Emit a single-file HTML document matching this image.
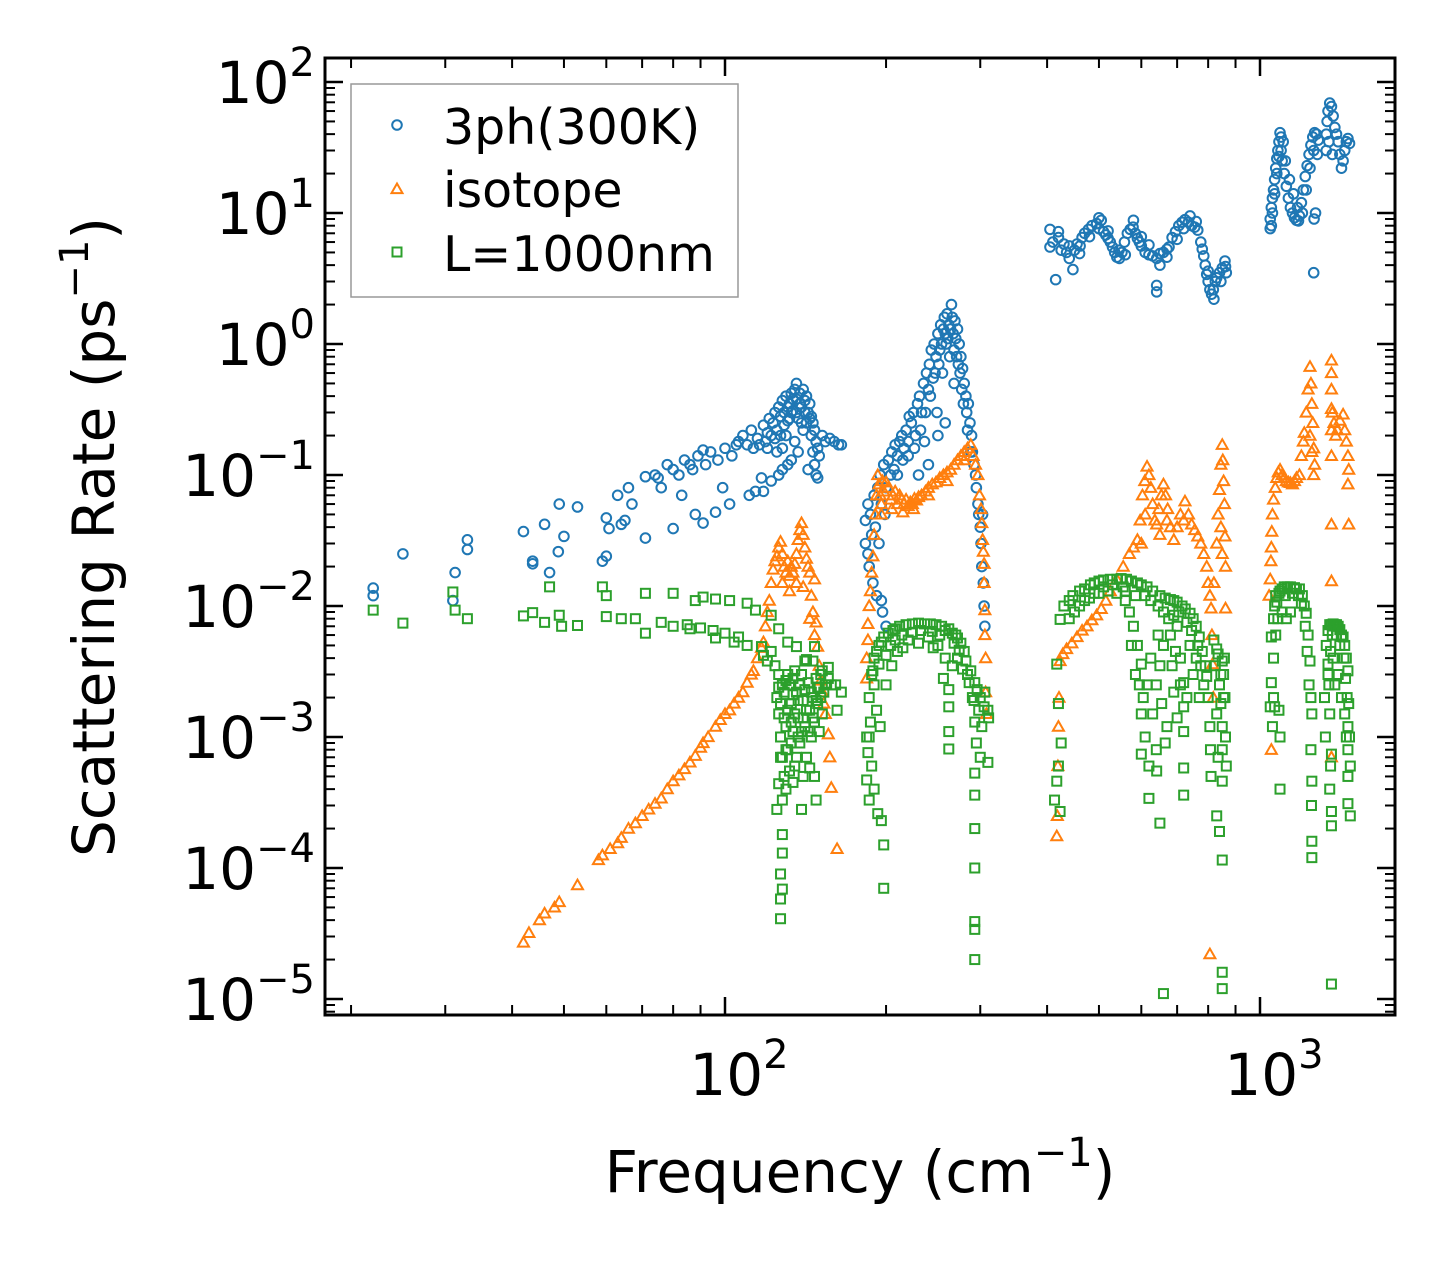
<!DOCTYPE html>
<html>
<head>
<meta charset="utf-8">
<style>
html,body{margin:0;padding:0;background:#fff;}
svg{display:block;font-family:"DejaVu Sans","Liberation Sans",sans-serif;}
</style>
</head>
<body>
<svg id="chart" width="1455" height="1265" viewBox="0 0 1455 1265" xmlns="http://www.w3.org/2000/svg">
  <rect x="0" y="0" width="1455" height="1265" fill="#fff"/>
  <defs><clipPath id="plotclip"><rect x="325" y="58" width="1070" height="957"/></clipPath></defs>
  <g id="marks" clip-path="url(#plotclip)"></g>
  <g id="ticks"></g>
  <rect x="325" y="58" width="1070" height="957" fill="none" stroke="#000" stroke-width="3"/>
  <g id="labels"></g>
  <text x="860" y="1192" font-size="58" text-anchor="middle">Frequency (cm<tspan font-size="40" dy="-26">−1</tspan><tspan dy="26">)</tspan></text>
  <text transform="translate(114,537) rotate(-90)" font-size="58" text-anchor="middle">Scattering Rate (ps<tspan font-size="40" dy="-26">−1</tspan><tspan dy="26">)</tspan></text>
  <g>
    <rect x="351" y="84" width="387" height="213" fill="#fff" fill-opacity="0.85" stroke="#999" stroke-width="1.5"/>
    <g id="legendMarks"></g>
    <text x="443" y="144" font-size="49">3ph(300K)</text>
    <text x="443" y="207" font-size="49">isotope</text>
    <text x="443" y="271" font-size="49">L=1000nm</text>
  </g>
</svg>
<script>
const xMajorTicks = [100, 1000];
const xMajorLabels = ["2", "3"];
const yMajorTicks = [100, 10, 1, 0.1, 0.01, 0.001, 0.0001, 0.00001];
const yMajorLabels = ["2", "1", "0", "−1", "−2", "−3", "−4", "−5"];

const threePhData = [[22,0.0137],[22,0.012],[25,0.025],[31,0.011],[31.3,0.018],[33,0.032],[33,0.027],[42,0.037],[43.7,0.022],[43.7,0.021],[46,0.042],[47,0.018],[48.8,0.026],[49,0.06],[50,0.034],[53,0.057],[59,0.022],[60,0.024],[60,0.047],[60.7,0.039],[63,0.07],[64,0.042],[65,0.045],[66,0.08],[67,0.06],[71,0.033],[71,0.097],[74,0.1],[76,0.08],[80,0.11],[80,0.039],[83,0.07],[86,0.12],[88,0.05],[91,0.043],[91,0.155],[96,0.052],[99,0.08],[102,0.06],[105,0.17],[111,0.07],[114,0.075],[117,0.095],[126,0.1],[128,0.11],[133,0.13],
[75,0.095],[78,0.12],[82,0.1],[84,0.13],[87,0.11],[89,0.14],[92,0.12],[94,0.15],[97,0.13],[100,0.16],[103,0.14],[106,0.18],[108,0.2],[110,0.17],[112,0.22],[115,0.19],[118,0.24],[120,0.21],[121,0.27],[123,0.25],[124,0.3],[125,0.22],[126,0.33],[127,0.28],[128,0.37],[129,0.3],[130,0.4],[131,0.26],[132,0.35],[133,0.42],[134,0.31],[135,0.45],[136,0.5],[136,0.38],[137,0.27],[138,0.42],[139,0.33],[140,0.45],[141,0.37],[142,0.25],[142,0.4],[143,0.3],[144,0.35],[145,0.2],[145,0.28],[146,0.15],[147,0.22],[147,0.12],[148,0.1],[148,0.18],[149,0.095],[150,0.14],[152,0.2],[154,0.18],[157,0.19],[160,0.18],[163,0.17],[165,0.17],[120,0.16],[125,0.15],[130,0.2],[135,0.18],[140,0.22],[118,0.075],[122,0.09],[131,0.12],[137,0.15],[143,0.11],
[127,0.2],[129,0.24],[131,0.33],[133,0.3],[134,0.38],[136,0.3],[138,0.35],[139,0.25],[141,0.3],[144,0.27],[146,0.25],[149,0.16],[132,0.27],[128,0.16],[124,0.19],[122,0.2],[119,0.18],[116,0.17],[113,0.16],
[183,0.03],[183,0.045],[185,0.025],[185,0.06],[186,0.02],[187,0.05],[188,0.035],[189,0.015],[190,0.07],[191,0.04],[192,0.012],[193,0.08],[194,0.03],[195,0.1],[196,0.011],[196,0.06],[197,0.009],[198,0.12],[199,0.05],[200,0.08],[200,0.007],[202,0.13],[204,0.1],[205,0.15],[207,0.11],[208,0.17],[210,0.14],[212,0.18],[214,0.2],[216,0.16],[218,0.22],[220,0.18],[221,0.28],[223,0.25],[225,0.3],[227,0.2],[229,0.35],[231,0.4],[233,0.3],[235,0.5],[236,0.18],[238,0.6],[240,0.45],[241,0.7],[243,0.9],[245,0.55],[246,1.0],[248,0.8],[249,0.3],[250,1.2],[252,0.9],[253,1.4],[255,0.6],[256,1.3],[257,1.6],[259,1.0],[260,1.7],[262,1.4],[263,0.8],[265,2.0],[266,1.6],[267,1.2],[268,0.5],[269,1.5],[270,1.1],[272,1.3],[273,0.7],[274,1.0],[276,0.8],[277,0.45],[278,0.65],[280,0.5],[282,0.4],[283,0.3],[285,0.35],[287,0.25],[289,0.2],[290,0.15],[292,0.12],[294,0.1],[295,0.08],[297,0.06],[298,0.05],[300,0.04],[301,0.03],[302,0.02],[303,0.05],[304,0.015],[305,0.01],[306,0.007],[230,0.1],[240,0.12],[250,0.2],[258,0.25],
[210,0.1],[215,0.13],[220,0.14],[226,0.16],[232,0.22],[237,0.3],[242,0.4],[247,0.6],[251,0.7],[254,1.0],[258,1.2],[261,1.1],[264,1.3],[268,0.9],[271,0.8],[275,0.6],[279,0.35],[284,0.22],[288,0.15],
[405,7.5],[405,5.5],[410,6.0],[415,3.1],[420,6.5],[425,5.2],[430,5.8],[435,5.0],[440,4.5],[447,3.7],[450,5.2],[455,5.8],[461,5.6],[465,6.5],[470,7.0],[478,7.5],[485,8.0],[495,8.3],[500,7.6],[505,8.8],[510,7.2],[515,6.8],[520,6.4],[525,6.0],[530,5.5],[535,5.0],[540,4.6],[546,4.5],[552,5.0],[558,6.0],[565,7.0],[572,7.5],[579,7.8],[585,7.0],[590,6.4],[595,6.0],[600,5.6],[610,5.0],[620,4.8],[630,4.7],[641,4.5],[641,2.8],[641,2.5],[650,4.9],[660,5.0],[670,5.3],[676,5.5],[685,6.5],[695,7.2],[705,8.0],[715,8.5],[724,8.9],[735,8.5],[745,8.0],[755,7.8],[765,7.4],[775,6.0],[785,4.7],[790,4.0],[795,3.4],[800,3.0],[806,2.6],[812,2.4],[818,2.6],[825,3.0],[830,3.2],[840,3.5],[850,3.8],[862,3.9],[865,3.5],
[420,7.2],[440,5.6],[460,4.9],[480,6.6],[500,9.2],[520,7.3],[545,5.2],[560,4.8],[580,8.8],[600,6.6],[620,5.7],[650,4.0],[670,4.6],[700,6.3],[720,7.6],[740,9.5],[760,8.6],[780,5.3],[800,3.6],[820,2.2],[845,3.0],[860,4.3],
[1045,7.6],[1045,9],[1050,8],[1050,11],[1055,13],[1060,15],[1065,18],[1070,22],[1075,26],[1080,30],[1085,35],[1090,41],[1095,30],[1100,25],[1110,20],[1120,16],[1130,13],[1140,11],[1150,10],[1160,9.2],[1170,8.8],[1180,8.7],[1185,9.5],[1195,12],[1205,15],[1215,19],[1225,23],[1235,28],[1245,33],[1255,38],[1265,41],[1275,40],[1285,36],[1260,3.5],[1262,9],[1270,10],[1330,30],[1330,40],[1335,50],[1340,60],[1350,69],[1360,65],[1370,55],[1380,45],[1390,40],[1400,35],[1410,28],[1420,22],[1430,25],[1440,30],[1450,35],[1460,37],[1470,34],[1345,35],[1365,28],[1055,10],[1065,14],[1075,20],[1085,27],[1095,38],[1105,35],[1115,25],[1135,18],[1155,14],[1175,11],[1200,10],[1220,15],[1240,22],[1260,30],[1280,28]];

const isotopeData = [[42,2.7e-5],[43,3.2e-5],[45,4e-5],[46,4.5e-5],[48,5e-5],[49,5.5e-5],[53,7.4e-5],[58,1.15e-4],[59,1.25e-4],[61,1.4e-4],[63,1.55e-4],[64,1.7e-4],[66,2e-4],[68,2.2e-4],[70,2.5e-4],[72,2.8e-4],[74,3.1e-4],[76,3.4e-4],[78,4e-4],[80,4.6e-4],[82,5.1e-4],[84,5.7e-4],[86,6.4e-4],[88,7.2e-4],[90,8.3e-4],[91,9e-4],[93,1e-3],[96,1.2e-3],[98,1.35e-3],[100,1.5e-3],[102,1.6e-3],[104,1.8e-3],[106,2e-3],[108,2.2e-3],[110,2.6e-3],[112,3e-3],[113,3.2e-3],[115,4e-3],[117,4.8e-3],[118,5.3e-3],[119,7e-3],[120,9e-3],[121,1.1e-2],[122,1.5e-2],[123,1.9e-2],[124,2.2e-2],[125,2.4e-2],[126,2.8e-2],[127,3.1e-2],[128,2.5e-2],[129,2.0e-2],[130,1.8e-2],[131,2.2e-2],[132,1.7e-2],[133,2e-2],[134,1.8e-2],[135,2.1e-2],[136,2.5e-2],[137,3.2e-2],[138,3.8e-2],[139,4.3e-2],[140,3.5e-2],[141,2.8e-2],[142,2.3e-2],[143,2e-2],[144,1.8e-2],[145,1.2e-2],[146,9e-3],[147,1.6e-2],[147,6e-3],[148,7.5e-3],[149,4.9e-3],[150,3.5e-3],[151,2.7e-3],[152,2.2e-3],[153,1.8e-3],[154,1.5e-3],[156,1.05e-3],[157,7e-4],[158,4.1e-4],[162,1.4e-4],[128,1.5e-2],[132,1.3e-2],[136,1.5e-2],[140,1.4e-2],[144,8e-3],
[184,2.8e-3],[184,4e-3],[185,5.5e-3],[185,7.3e-3],[186,1e-2],[187,1.3e-2],[188,1.8e-2],[189,2.4e-2],[190,3.5e-2],[191,5e-2],[192,7e-2],[193,0.1],[194,0.085],[195,0.07],[196,0.06],[197,0.09],[198,0.075],[200,0.088],[202,0.08],[204,0.065],[206,0.07],[208,0.075],[210,0.06],[212,0.07],[214,0.065],[216,0.06],[218,0.065],[220,0.058],[222,0.062],[224,0.06],[226,0.066],[228,0.064],[230,0.068],[233,0.07],[237,0.075],[240,0.08],[244,0.085],[248,0.088],[252,0.095],[256,0.1],[260,0.105],[264,0.11],[268,0.12],[272,0.13],[276,0.14],[280,0.15],[284,0.16],[288,0.17],[291,0.14],[294,0.12],[297,0.1],[299,0.07],[301,0.055],[302,0.043],[303,0.032],[304,0.026],[305,0.021],[305,0.015],[306,9.3e-3],[306,6e-3],[307,4e-3],[307,2.2e-3],[308,1.5e-3],[196,0.05],[205,0.055],[215,0.052],[225,0.055],[240,0.07],[260,0.09],[280,0.13],
[417,1.75e-4],[418,2.5e-4],[419,6e-4],[420,1.2e-3],[421,2e-3],[423,3.8e-3],[428,4.3e-3],[435,4.7e-3],[445,5.2e-3],[455,5.8e-3],[465,6.5e-3],[475,7e-3],[485,7.8e-3],[495,8.5e-3],[505,9.5e-3],[515,1.1e-2],[525,1.3e-2],[540,1.6e-2],[555,2e-2],[570,2.5e-2],[580,2.8e-2],[590,3.2e-2],[597,4.5e-2],[603,7e-2],[609,9e-2],[615,0.116],[620,0.1],[625,0.08],[630,0.06],[636,0.045],[641,0.042],[647,0.055],[654,0.07],[660,0.085],[666,0.07],[672,0.055],[680,0.04],[690,0.032],[700,0.04],[710,0.05],[724,0.063],[735,0.05],[745,0.042],[755,0.038],[765,0.034],[775,0.03],[785,0.025],[795,0.02],[800,0.015],[806,0.012],[810,9.6e-3],[813,6e-3],[815,3.6e-3],[818,2e-3],[806,2.2e-5],[830,0.03],[835,0.05],[840,0.077],[845,0.12],[850,0.17],[852,0.13],[855,0.09],[858,0.06],[860,0.034],[862,0.02],[862,9.6e-3],[845,0.04],[850,0.025],[820,0.015],[600,0.03],[610,0.05],[650,0.035],[670,0.045],[720,0.045],
[1040,1.2e-2],[1045,1.6e-2],[1048,2.2e-2],[1050,2.8e-2],[1052,3.7e-2],[1055,5e-2],[1060,6.5e-2],[1068,8e-2],[1075,0.095],[1082,0.105],[1090,0.11],[1100,0.1],[1110,0.095],[1120,0.09],[1130,0.088],[1140,0.087],[1150,0.085],[1160,0.09],[1170,0.095],[1185,0.1],[1195,0.14],[1205,0.18],[1210,0.21],[1220,0.3],[1230,0.45],[1240,0.67],[1245,0.5],[1250,0.35],[1255,0.25],[1260,0.16],[1265,0.12],[1260,0.1],[1050,8e-4],[1360,0.75],[1360,0.6],[1360,0.45],[1360,0.32],[1360,0.22],[1360,0.14],[1360,0.042],[1360,0.0155],[1360,7e-4],[1365,0.3],[1375,0.25],[1385,0.2],[1395,0.22],[1410,0.26],[1430,0.29],[1440,0.22],[1450,0.18],[1460,0.14],[1460,0.085],[1465,0.042],[1465,0.11],[1240,0.2],[1250,0.15]];

const boundaryData = [[22,9.3e-3],[25,7.4e-3],[31,1.28e-2],[31.3,9.3e-3],[33,8e-3],[42,8.4e-3],[43.7,8.9e-3],[46,7.5e-3],[47,1.4e-2],[49,8.5e-3],[49.5,7e-3],[53,7.1e-3],[59,1.4e-2],[60,1.2e-2],[60,8.3e-3],[64,8e-3],[68,8e-3],[71,1.25e-2],[71,6.2e-3],[76,7.5e-3],[80,1.25e-2],[80,7e-3],[86,6.7e-3],[88,1.1e-2],[91,1.17e-2],[96,1.13e-2],[102,1.1e-2],[96,5.7e-3],[104,5.3e-3],[110,1.05e-2],[114,9.3e-3],[117,4.9e-3],[122,8.5e-3],[126,6.7e-3],[131,5.3e-3],[136,4.9e-3],[141,3.8e-3],[147,4.9e-3],[152,3.2e-3],[158,2.5e-3],[162,1.6e-3],
[127,4.1e-5],[127,5.8e-5],[128,6.9e-5],[127,9e-5],[128,1.3e-4],[128,1.8e-4],[125,2.8e-4],[126,4.4e-4],[139,2.8e-4],[148,3.3e-4],[147,5e-4],[156,3.4e-3],
[125,2e-3],[126,1.5e-3],[127,1e-3],[128,7e-4],[129,5e-4],[130,1.2e-3],[131,8e-4],[132,2.5e-3],[133,1.8e-3],[134,1.1e-3],[135,6e-4],[136,2.2e-3],[137,1.4e-3],[138,9e-4],[139,3e-3],[140,1.9e-3],[141,1.2e-3],[142,7e-4],[143,2.6e-3],[144,1.6e-3],[145,1e-3],[146,2e-3],[147,1.3e-3],[148,2.8e-3],[149,1.8e-3],[150,2.4e-3],[151,3e-3],[152,1.5e-3],[154,2.5e-3],[156,2.8e-3],[124,3.5e-3],[126,3e-3],[128,2.5e-3],[130,2.7e-3],[128,3.3e-4],[130,4e-4],[132,5.5e-4],[134,4.5e-4],[136,7e-4],[140,5e-4],[144,5.8e-4],[142,3.9e-3],[118,4.2e-3],[120,3.8e-3],[122,4.5e-3],[110,5e-3],[106,5.8e-3],[100,6.2e-3],[95,6.5e-3],[90,6.8e-3],[85,7.2e-3],[150,1.1e-3],[135,3.2e-3],[146,3.8e-3],[161,2.5e-3],[165,2.2e-3],
[126,2.4e-3],[127,1.8e-3],[129,1.4e-3],[129,2.2e-3],[131,1.6e-3],[133,1.3e-3],[134,2.1e-3],[135,1.5e-3],[137,1.9e-3],[138,2.5e-3],[139,1.1e-3],[140,1.4e-3],[141,2.3e-3],[142,1.6e-3],[143,1.1e-3],[145,2.2e-3],[146,1.4e-3],[148,1.9e-3],[149,2.4e-3],[151,2e-3],[153,2.2e-3],[127,7e-4],[130,8e-4],[133,9e-4],[137,1e-3],[131,3e-3],[134,2.8e-3],
[184,4.7e-4],[185,7.6e-4],[187,1.3e-3],[193,2.6e-4],[196,2.3e-4],[198,7e-5],[189,3.2e-3],[196,5.3e-3],[208,6.7e-3],[224,7.3e-3],[242,7.3e-3],[262,6.7e-3],[272,5.7e-3],[256,2.8e-3],[262,1.7e-3],[262,1.1e-3],[262,8.1e-4],[284,3e-3],[293,2.6e-3],[305,1.7e-3],[311,1.4e-3],[293,1.3e-3],[293,5.3e-4],[293,3.6e-4],[293,2e-4],[293,1e-4],[293,3.9e-5],[293,3.4e-5],[293,2e-5],[310,6.4e-4],
[186,2e-3],[188,3e-3],[190,4e-3],[192,4.5e-3],[194,5e-3],[198,5.8e-3],[202,6.2e-3],[206,6.5e-3],[212,7e-3],[218,7.2e-3],[230,7.4e-3],[236,7.3e-3],[248,7.2e-3],[254,7e-3],[258,6.5e-3],[266,6.2e-3],[270,6e-3],[276,5.2e-3],[280,4.5e-3],[288,3.2e-3],[296,2.3e-3],[300,2e-3],[186,1e-3],[188,6e-4],[190,4e-4],[192,1.6e-3],[195,1.2e-3],[200,2.5e-3],[205,3.5e-3],[210,4.5e-3],[220,5.5e-3],[240,5.8e-3],[250,5e-3],[258,4e-3],[262,2.3e-3],[266,3.5e-3],[272,4e-3],[278,3.3e-3],[290,2e-3],[298,1.6e-3],[302,1.2e-3],[306,2.2e-3],[310,1.6e-3],[295,9e-4],[300,7e-4],[186,3.3e-4],[184,1e-3],[198,1.5e-4],
[200,4.2e-3],[204,5e-3],[208,5.5e-3],[214,6e-3],[224,6.3e-3],[232,6.5e-3],[244,6.4e-3],[252,6e-3],[215,4.8e-3],[230,5.2e-3],[245,4.8e-3],[268,5.2e-3],[274,4.6e-3],[282,3.8e-3],[286,2.6e-3],[292,1.9e-3],[190,2.5e-3],[194,3.6e-3],
[417,3.6e-3],[423,7.9e-3],[447,1.2e-2],[482,1.45e-2],[525,1.6e-2],[563,1.6e-2],[600,1.45e-2],[650,1.2e-2],[700,1.07e-2],[740,8.8e-3],[770,5.8e-3],[795,2.9e-3],[806,1.2e-3],[830,4.7e-3],[850,3.8e-3],[850,1.2e-3],[850,4.6e-4],[850,1.15e-4],[850,1.6e-5],[850,1.2e-5],[840,1.9e-4],[830,2.5e-4],
[600,1.5e-3],[600,7.4e-4],[620,3.4e-4],[650,2.2e-4],[641,5.5e-4],[670,1.2e-3],[720,2.6e-3],[720,1.1e-3],[720,5.8e-4],[720,3.6e-4],[660,1.1e-5],[600,3.6e-3],[420,6e-4],[417,4.6e-4],[413,3.3e-4],[423,2.7e-4],
[430,1e-2],[440,1.1e-2],[460,1.3e-2],[470,1.35e-2],[490,1.5e-2],[500,1.55e-2],[510,1.58e-2],[540,1.6e-2],[550,1.62e-2],[575,1.55e-2],[590,1.5e-2],[615,1.4e-2],[630,1.3e-2],[665,1.15e-2],[680,1.12e-2],[690,1.1e-2],[715,1e-2],[725,9.5e-3],[750,8e-3],[760,7e-3],[780,4.5e-3],[790,3.5e-3],[800,2e-3],[808,8e-4],[810,5e-4],[440,8e-3],[460,1e-2],[480,1.15e-2],[500,1.25e-2],[520,1.3e-2],[540,1.25e-2],[560,1.1e-2],[570,9e-3],[580,7e-3],[590,5e-3],[595,2.5e-3],[605,2e-3],[610,1e-3],[620,6e-4],[630,1.5e-3],[640,2.5e-3],[650,3.5e-3],[660,5e-3],[680,6e-3],[700,7e-3],[710,4e-3],[720,1.7e-3],[730,2e-3],[740,5e-3],[760,4e-3],[640,8e-4],[655,1.8e-3],[665,9e-4],[690,2.2e-3],[700,1.4e-3],[820,5.5e-3],[835,4.3e-3],[840,2.5e-3],[845,1.8e-3],[850,8e-4],[855,3e-3],[860,2e-3],[862,1e-3],[865,6e-4],[858,4e-3],[830,1.5e-3],[835,7e-4],[420,1.8e-3],[425,9e-4],
[450,9e-3],[470,1.1e-2],[490,1.25e-2],[510,1.4e-2],[530,1.45e-2],[555,1.4e-2],[560,1.3e-2],[585,1.2e-2],[610,1.2e-2],[625,1.1e-2],[645,1e-2],[660,9e-3],[675,8e-3],[690,8.5e-3],[705,9e-3],[730,7.5e-3],[745,6.5e-3],[765,5e-3],[775,3.5e-3],[785,2.5e-3],[575,5e-3],[585,3e-3],[615,2.5e-3],[625,4e-3],[645,6e-3],[685,3.5e-3],[695,4.5e-3],[710,2.5e-3],[750,3e-3],[770,2e-3],[825,3.5e-3],[845,3e-3],[855,2e-3],
[1045,1.7e-3],[1050,2.6e-3],[1050,5.8e-3],[1075,1.07e-2],[1125,1.4e-2],[1185,1.35e-2],[1220,8.8e-3],[1240,3.8e-3],[1250,1.5e-3],[1250,4.6e-4],[1250,1.6e-4],[1250,1.2e-4],[1090,1e-3],[1090,4e-4],
[1340,3.6e-3],[1360,7.2e-3],[1390,7.2e-3],[1430,5.8e-3],[1460,3.2e-3],[1460,1.2e-3],[1460,5e-4],[1460,3.1e-4],[1360,7.4e-4],[1360,2.7e-4],[1360,2.1e-4],[1360,1.3e-5],[1350,4e-4],
[1060,8e-3],[1065,1e-2],[1085,1.25e-2],[1100,1.35e-2],[1110,1.4e-2],[1140,1.4e-2],[1160,1.38e-2],[1170,1.35e-2],[1200,1.2e-2],[1210,1e-2],[1230,6e-3],[1235,2.5e-3],[1245,8e-4],[1248,3e-4],[1245,2e-3],[1060,4e-3],[1070,6e-3],[1080,8e-3],[1100,9e-3],[1120,8e-3],[1140,9e-3],[1060,2e-3],[1055,1.2e-3],[1065,1.7e-3],[1085,1.6e-3],[1320,2e-3],[1325,1e-3],[1330,5e-3],[1340,6.5e-3],[1350,7.2e-3],[1370,7.3e-3],[1380,7.2e-3],[1400,7e-3],[1410,6.6e-3],[1420,6e-3],[1440,5e-3],[1450,4e-3],[1455,2e-3],[1460,8e-4],[1340,3e-3],[1350,1.5e-3],[1355,6e-4],[1345,2.5e-3],[1370,4e-3],[1380,2.5e-3],[1400,3e-3],[1420,2e-3],[1440,1.5e-3],[1465,1.8e-3],[1470,1e-3],[1475,6e-4],[1475,2.5e-4],
[1070,1.2e-2],[1090,1.3e-2],[1115,1.2e-2],[1150,1.25e-2],[1180,1.2e-2],[1195,1.05e-2],[1215,7e-3],[1225,4.5e-3],[1365,6e-3],[1390,6e-3],[1410,5e-3],[1435,4e-3],[1445,2.8e-3],[1355,4.5e-3],[1450,1e-3]];

const NS = "http://www.w3.org/2000/svg";
function xScale(f){ return 725 + 535 * (Math.log10(f) - 2); }
function yScale(v){ return 82 + 131 * (2 - Math.log10(v)); }
const LEFT = 325, RIGHT = 1395, TOP = 58, BOTTOM = 1015;

function mk(tag, attrs){
  const el = document.createElementNS(NS, tag);
  for (const k in attrs) el.setAttribute(k, attrs[k]);
  return el;
}
function circleMark(x, y, color){
  return mk("circle", {cx:x, cy:y, r:4.8, fill:"none", stroke:color, "stroke-width":2});
}
function triMark(x, y, color){
  const s = 5.5;
  return mk("polygon", {points:`${x},${y-s} ${x-s},${y+s*0.75} ${x+s},${y+s*0.75}`, fill:"none", stroke:color, "stroke-width":2});
}
function sqMark(x, y, color){
  return mk("rect", {x:x-4.5, y:y-4.5, width:9, height:9, fill:"none", stroke:color, "stroke-width":2});
}

const marks = document.getElementById("marks");
const series = [
  {data: threePhData, color:"#1f77b4", fn: circleMark, name:"3ph-series"},
  {data: isotopeData, color:"#ff7f0e", fn: triMark, name:"isotope-series"},
  {data: boundaryData, color:"#2ca02c", fn: sqMark, name:"boundary-series"}
];
series.forEach(s => {
  const g = mk("g", {});
  
  
  s.data.forEach(p => {
    const el = s.fn(xScale(p[0]), yScale(p[1]), s.color);
    
    
    g.appendChild(el);
  });
  marks.appendChild(g);
});

const lm = document.getElementById("legendMarks");
[[circleMark,"#1f77b4",125,"legend-marker-3ph"],[triMark,"#ff7f0e",189,"legend-marker-isotope"],[sqMark,"#2ca02c",252,"legend-marker-boundary"]].forEach(d => {
  const el = d[0](397, d[2], d[1]);
  
  
  lm.appendChild(el);
});

const ticks = document.getElementById("ticks");
function tick(x1,y1,x2,y2,w){
  const el = mk("line", {x1:x1,y1:y1,x2:x2,y2:y2,stroke:"#000","stroke-width":w});
  
  
  ticks.appendChild(el);
}
for (let e = 1; e <= 3; e++){
  for (let m = 1; m <= 9; m++){
    const x = xScale(m * Math.pow(10, e));
    if (x < LEFT + 1 || x > RIGHT - 1) continue;
    const major = (m === 1);
    const L = major ? 18 : 10, w = major ? 2.5 : 2;
    tick(x, BOTTOM, x, BOTTOM - L, w);
    tick(x, TOP, x, TOP + L, w);
  }
}
for (let e = -6; e <= 2; e++){
  for (let m = 1; m <= 9; m++){
    const y = yScale(m * Math.pow(10, e));
    if (y < TOP + 1 || y > BOTTOM - 1) continue;
    const major = (m === 1);
    const L = major ? 18 : 10, w = major ? 2.5 : 2;
    tick(LEFT, y, LEFT + L, y, w);
    tick(RIGHT, y, RIGHT - L, y, w);
  }
}

const labels = document.getElementById("labels");
function powLabel(x, y, exp, anchor, name){
  const t = mk("text", {x:x, y:y, "font-size":58, "text-anchor":anchor});
  
  
  t.appendChild(document.createTextNode("10"));
  const sp = mk("tspan", {"font-size":40, dy:-27});
  sp.textContent = exp;
  t.appendChild(sp);
  labels.appendChild(t);
}
xMajorTicks.forEach((f, i) => {
  powLabel(xScale(f) + 14, 1095, xMajorLabels[i], "middle", "x-tick-label");
});
yMajorTicks.forEach((v, i) => {
  powLabel(315, yScale(v) + 21, yMajorLabels[i], "end", "y-tick-label");
});
</script>
</body>
</html>
